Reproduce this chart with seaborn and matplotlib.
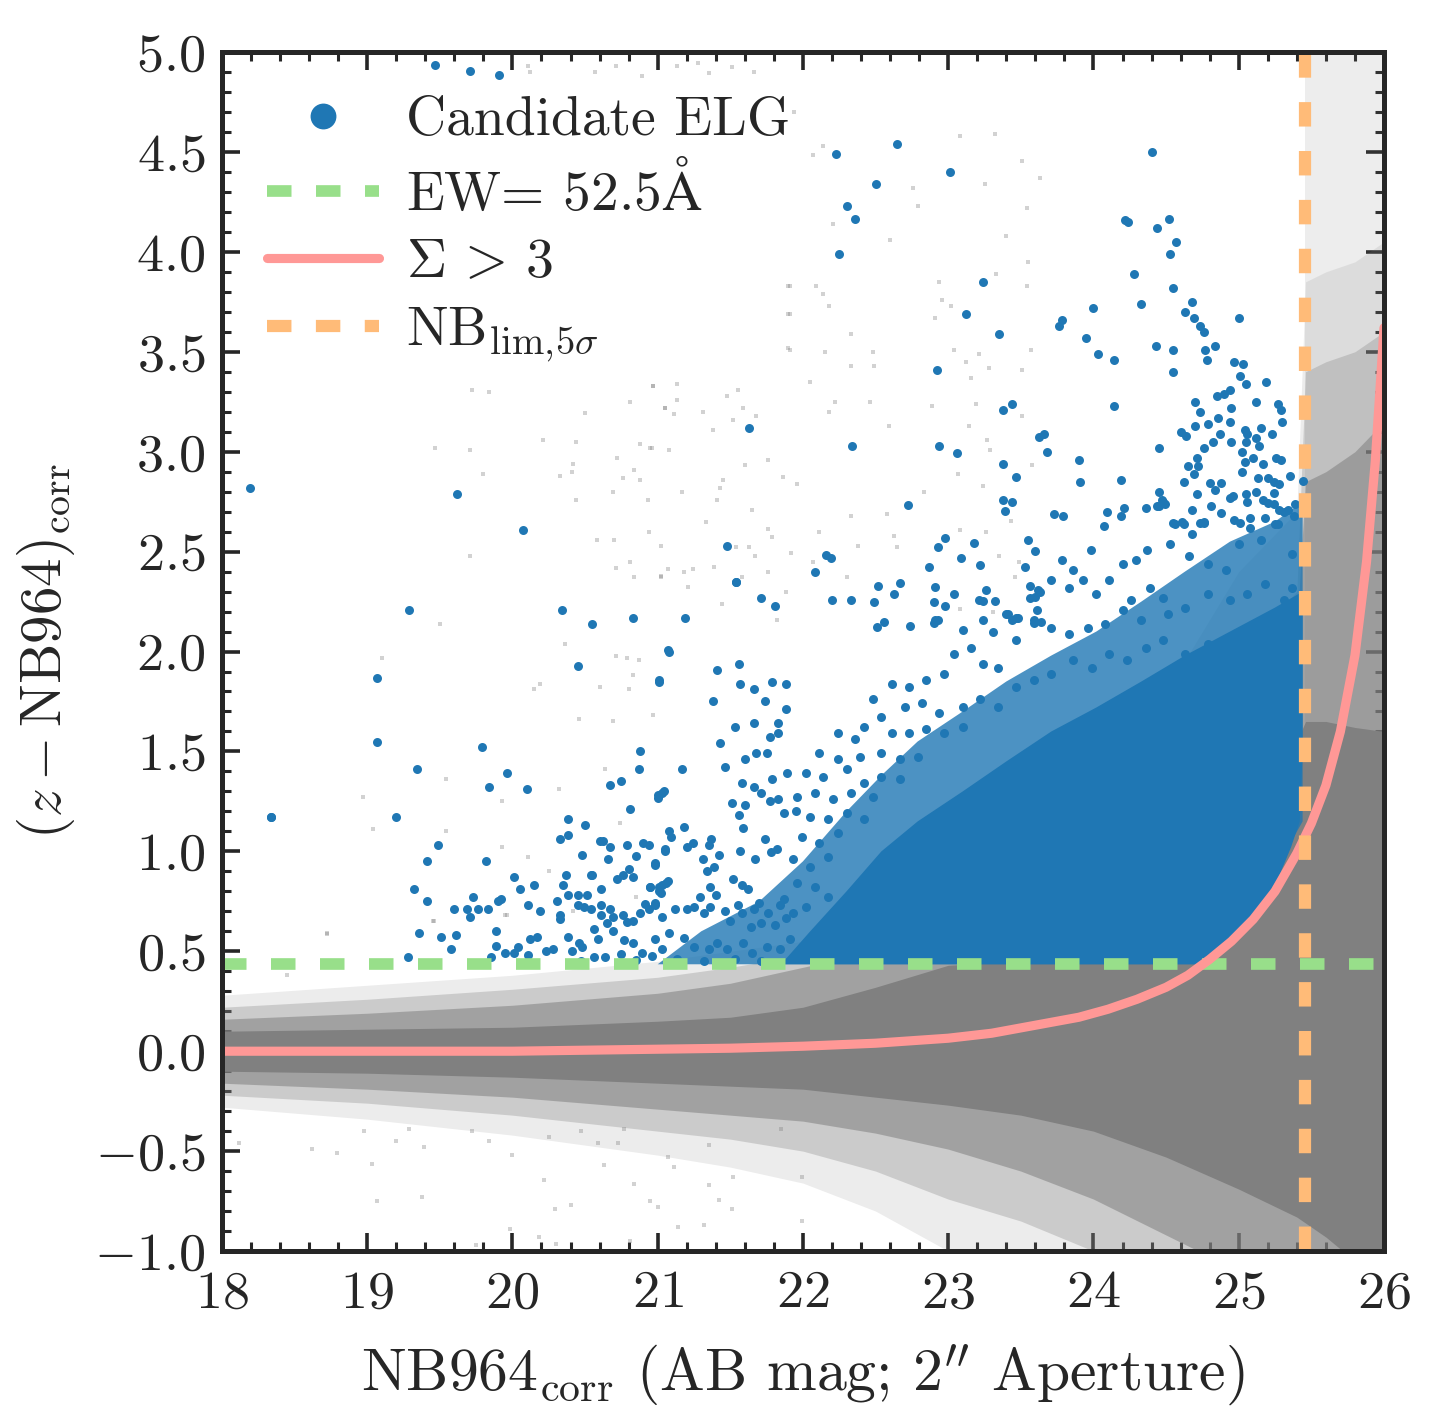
import matplotlib
matplotlib.use("Agg")
import matplotlib.pyplot as plt
import seaborn as sns
from matplotlib.lines import Line2D
from matplotlib.ticker import MultipleLocator

# ---- values ------------------------------------------------------------
EW_CUT = 0.435          # EW = 52.5 A colour cut
NB_LIM = 25.455         # NB964 5-sigma limit

# Sigma > 3 curve
sigma_x = [18.0, 19.0, 20.0, 20.5, 21.0, 21.5, 22.0, 22.5, 23.0, 23.3, 23.6, 23.9,
           24.1, 24.3, 24.5, 24.65, 24.8, 24.95, 25.1, 25.25, 25.4, 25.5, 25.6,
           25.7, 25.8, 25.88, 25.94, 26.0]
sigma_y = [0.00, 0.00, 0.00, 0.005, 0.01, 0.015, 0.025, 0.04, 0.065, 0.09, 0.13, 0.17,
           0.21, 0.26, 0.32, 0.38, 0.46, 0.55, 0.66, 0.80, 0.99, 1.14, 1.33,
           1.60, 1.98, 2.45, 2.95, 3.62]

# envelope of the grey cloud of all detections (solid core -> faint fringe)
cloud_x  = [18.0, 19.0, 20.0, 21.0, 21.5, 22.0, 22.5, 23.0, 23.5, 24.0, 24.5, 25.0,
            25.40, 25.46, 25.6, 25.8, 26.0]
core_hi  = [0.10, 0.11, 0.12, 0.15, 0.17, 0.22, 0.32, 0.43, 0.45, 0.50, 0.60, 1.00,
            1.55, 1.65, 1.65, 1.62, 1.60]
core_lo  = [-0.10, -0.11, -0.13, -0.16, -0.175, -0.19, -0.23, -0.27, -0.32, -0.40,
            -0.53, -0.69, -0.83, -0.86, -0.93, -1.05, -1.10]
halo_hi  = [0.16, 0.19, 0.23, 0.29, 0.34, 0.42, 0.50, 0.60, 0.80, 1.00, 1.30, 1.80,
            2.10, 2.85, 2.90, 3.00, 3.15]
halo_lo  = [-0.16, -0.19, -0.23, -0.29, -0.32, -0.35, -0.41, -0.49, -0.60, -0.74,
            -0.92, -1.10, -1.10, -1.10, -1.10, -1.10, -1.10]
halo2_hi = [0.22, 0.26, 0.31, 0.37, 0.42, 0.48, 0.57, 0.70, 0.90, 1.10, 1.50, 2.00,
            2.30, 3.40, 3.45, 3.50, 3.60]
halo2_lo = [-0.22, -0.26, -0.32, -0.40, -0.44, -0.50, -0.60, -0.74, -0.85, -1.00,
            -1.10, -1.10, -1.10, -1.10, -1.10, -1.10, -1.10]
fringe_hi = [0.28, 0.33, 0.38, 0.45, 0.50, 0.55, 0.65, 0.80, 1.00, 1.20, 1.80, 2.40,
             2.70, 3.85, 3.90, 3.95, 4.05]
fringe_lo = [-0.28, -0.34, -0.42, -0.52, -0.58, -0.66, -0.80, -1.00, -1.10, -1.10,
             -1.10, -1.10, -1.10, -1.10, -1.10, -1.10, -1.10]

# isolated grey detections
field_x = [22.14, 22.07, 23.08, 23.32, 23.51, 23.63, 23.25, 22.76, 22.79, 23.54, 22.60,
           23.40, 22.21, 23.55, 23.33, 23.54, 22.94, 21.91, 22.09, 22.14, 22.18, 22.96,
           23.02, 22.91, 22.33, 21.91, 21.91, 22.15, 22.48, 23.04, 23.21, 23.57, 22.33,
           22.49, 23.28, 23.12, 23.51, 23.16, 22.05, 20.97, 21.13, 21.55, 21.48, 21.13,
           21.05, 21.11, 21.31, 21.59, 21.68, 21.52, 21.38, 22.22, 22.18, 22.46, 22.59,
           22.89, 23.19, 23.14, 23.51, 23.27, 23.29, 23.58, 23.07, 23.24, 22.83, 22.58,
           22.33, 22.63, 22.65, 23.08, 23.26, 23.35, 23.43, 23.49, 23.46, 23.31, 23.08,
           20.95, 21.08, 21.60, 21.76, 21.86, 21.96, 21.45, 21.43, 21.17, 21.41, 21.65,
           21.33, 21.76, 21.79, 21.54, 21.63, 21.67, 21.39, 21.24, 21.18, 21.07, 21.02,
           21.58, 21.76, 21.92, 22.07, 22.11, 22.30, 22.38, 21.88, 21.21, 21.44, 21.82,
           19.72, 19.84, 20.97, 20.81, 21.05, 20.50, 19.47, 19.71, 20.21, 20.44, 20.42,
           20.41, 20.33, 20.72, 20.84, 20.88, 20.96, 20.88, 20.76, 19.80, 20.69, 20.44,
           20.93, 20.94, 20.58, 20.70, 20.71, 20.81, 20.84, 21.02, 21.02, 19.71, 19.50,
           20.36, 19.10, 20.71, 20.79, 20.87, 20.83, 20.80, 20.19, 20.15, 20.60, 20.46,
           20.69, 20.97, 20.64, 20.32, 19.54, 19.93, 18.97, 19.04, 19.54, 19.93, 20.11,
           20.74, 20.25, 20.42, 19.96, 20.85, 19.46, 18.72, 18.45,
           20.11, 20.12, 20.57, 20.71, 20.89, 21.13, 21.28, 21.35, 21.51, 21.66, 21.94,
           21.90, 21.90, 21.90,
           18.62, 18.79, 18.98, 19.03, 19.07, 19.38, 19.20, 19.39, 19.72, 19.29, 19.84,
           20.00, 19.98, 20.18, 20.22, 20.29, 20.40, 20.63, 20.84, 20.95, 21.00, 21.14,
           21.32, 21.51, 21.52, 21.35, 21.42, 21.99, 21.99, 21.07, 21.11, 20.73, 20.59,
           20.47, 20.25, 20.77, 21.35, 21.85, 18.12, 20.81, 20.30, 19.75, 18.72, 19.95,
           19.45]
field_y = [4.53, 4.485, 4.58, 4.59, 4.455, 4.37, 4.34, 4.32, 4.23, 4.22, 4.06,
           4.08, 4.14, 3.95, 3.89, 3.83, 3.85, 3.83, 3.83, 3.79, 3.73, 3.76,
           3.73, 3.67, 3.59, 3.69, 3.51, 3.50, 3.50, 3.51, 3.49, 3.51, 3.43,
           3.43, 3.42, 3.45, 3.41, 3.37, 3.35, 3.33, 3.34, 3.31, 3.28, 3.26,
           3.22, 3.19, 3.20, 3.22, 3.18, 3.16, 3.11, 3.25, 3.20, 3.25, 3.13,
           3.23, 3.24, 3.13, 3.18, 3.06, 3.01, 2.935, 2.89, 2.83, 2.80, 2.69,
           2.68, 2.58, 2.525, 2.61, 2.60, 2.48, 2.655, 2.45, 2.375, 2.20, 2.215,
           3.02, 3.01, 2.935, 2.96, 2.875, 2.84, 2.86, 2.82, 2.80, 2.76, 2.71,
           2.65, 2.615, 2.575, 2.525, 2.525, 2.48, 2.425, 2.415, 2.40, 2.415, 2.375,
           2.375, 2.40, 2.495, 2.45, 2.60, 2.375, 2.53, 2.30, 2.325, 2.24, 2.16,
           3.31, 3.30, 3.33, 3.25, 3.22, 3.195, 3.02, 3.01, 3.06, 3.05, 2.94,
           2.90, 2.88, 2.97, 2.91, 3.04, 3.02, 2.86, 2.87, 2.89, 2.80, 2.76,
           2.76, 2.60, 2.56, 2.56, 2.42, 2.45, 2.375, 2.38, 2.53, 2.48, 2.14,
           2.04, 1.97, 1.98, 1.97, 1.96, 1.885, 1.81, 1.84, 1.81, 1.82, 1.66,
           1.65, 1.68, 1.41, 1.31, 1.36, 1.25, 1.27, 1.11, 1.10, 1.02, 0.97,
           1.14, 0.90, 0.70, 0.68, 0.77, 0.65, 0.59, 0.38,
           4.93, 4.90, 4.90, 4.93, 4.88, 4.93, 4.945, 4.895, 4.925, 4.90, 4.70,
           3.83, 3.69, 3.52,
           -0.49, -0.51, -0.40, -0.565, -0.75, -0.73, -0.45, -0.48, -0.40, -0.39, -0.45,
           -0.52, -0.89, -0.93, -0.645, -0.79, -0.77, -0.57, -0.665, -0.75, -0.78, -0.88,
           -0.87, -0.79, -0.63, -0.67, -0.745, -0.85, -0.63, -0.53, -0.58, -0.46, -0.46,
           -0.40, -0.43, -0.39, -0.47, -0.39, -0.46, -0.95, -0.965, -0.97, 0.585, 0.68,
           0.65]

# dense part of the candidate ELG locus (outline)
elg_core_x = [21.85, 23.00, 24.00, 24.72, 24.85, 25.00, 25.15, 25.28, 25.36,
              25.42, 25.44, 25.44, 25.25, 24.94, 24.63, 24.33, 24.02, 23.71, 23.40,
              23.10, 22.79, 22.54, 22.30, 22.05, 21.85]
elg_core_y = [0.435, 0.435, 0.435, 0.435, 0.48, 0.58, 0.72, 0.88, 1.02,
              1.15, 1.50, 2.30, 2.22, 2.10, 1.98, 1.85, 1.72, 1.60, 1.45,
              1.30, 1.15, 1.00, 0.80, 0.60, 0.435]
elg_mid_x = [21.00, 24.72, 25.00, 25.44, 25.44, 25.25, 24.94, 24.63, 24.33, 24.02,
             23.71, 23.40, 23.10, 22.79, 22.54, 22.30, 22.00, 21.70, 21.30, 21.00]
elg_mid_y = [0.435, 0.435, 0.58, 1.15, 2.75, 2.65, 2.55, 2.40, 2.25, 2.10,
             1.98, 1.85, 1.70, 1.55, 1.38, 1.20, 0.95, 0.75, 0.60, 0.435]

# individual candidate ELGs
elg_x = [19.47, 19.71, 19.91, 22.23, 22.65, 23.01, 22.50, 22.30, 22.36, 22.25, 23.24,
         23.12, 23.35, 22.92, 23.44, 23.38, 23.625, 23.66, 23.68, 21.63, 22.34, 22.94,
         23.06, 23.38, 23.47, 23.38, 23.44, 23.39, 22.72, 22.98, 22.93, 23.18, 23.09,
         23.22, 23.55, 23.60, 23.53, 22.87, 21.48, 22.16, 22.19, 22.08, 21.54, 21.71,
         21.81, 21.19, 22.20, 22.33, 22.49, 22.52, 22.67, 22.63, 22.91, 23.04, 22.90,
         22.98, 23.26, 23.21, 23.24, 23.32, 23.56, 23.63, 23.60, 23.61, 23.41, 23.48,
         23.44, 23.59, 23.64, 22.51, 22.56, 22.74, 22.90, 22.93,
         23.73, 23.79, 23.76, 23.78, 23.90, 24.00, 23.95, 24.03, 24.14, 24.14, 23.91,
         24.07, 24.19, 24.22, 24.24, 24.28, 24.33, 24.09, 24.19, 24.21, 24.36, 24.44,
         24.48, 23.78, 23.86, 23.98,
         24.40, 24.52, 24.44, 24.565, 24.53, 24.55, 24.675, 24.63, 24.69, 24.73, 24.76,
         25.00, 24.43, 24.55, 24.77, 24.84, 24.78, 24.97, 25.03, 24.55, 25.01, 25.05,
         25.19, 24.94, 24.90, 24.85, 24.95, 25.12, 24.70, 24.73, 25.27, 25.29, 25.30,
         24.86, 24.94, 24.79, 24.70, 24.60, 24.64, 25.04, 25.06, 25.15, 25.23, 24.87,
         24.82, 24.95, 25.05, 25.12, 25.14, 24.45, 24.76, 25.02, 24.71, 25.10, 25.26,
         25.29, 25.04, 25.17, 24.65, 24.72, 25.02, 24.69, 25.35, 25.44, 25.13, 25.20,
         25.24, 25.28, 24.62, 24.80, 24.875, 24.84, 24.94, 24.96, 25.05, 25.12, 25.24,
         24.45, 24.47, 24.45, 24.49, 24.71, 24.68, 24.81, 24.875, 25.055, 25.17, 25.20,
         25.245, 25.28, 25.31, 25.385, 25.38, 24.55, 24.61, 24.73, 24.76, 24.97, 25.01,
         25.08, 25.18, 25.27,
         24.20, 24.29, 24.37, 24.56, 24.62, 24.68, 24.76, 24.53, 24.66, 24.79, 24.91,
         25.00, 25.08, 25.15, 25.25, 25.34, 25.37, 25.18, 24.11, 24.02, 23.93, 23.83,
         24.26, 24.39, 24.48, 23.71, 23.62, 23.56, 23.47, 23.59, 23.71, 23.83, 23.96,
         24.08, 24.20, 24.33, 24.51, 24.63, 24.79, 24.94, 25.06, 25.31, 25.37,
         22.91, 23.10, 23.24, 23.31, 23.40, 23.47, 23.04, 23.16, 23.24, 23.34, 22.97,
         22.85, 22.73, 22.61, 22.48, 22.54, 22.70, 22.82, 22.94, 23.10, 23.22, 23.34,
         23.47, 23.59, 23.71, 23.86, 23.99, 24.11, 24.23, 24.36, 24.48, 24.63, 24.79,
         24.94, 25.09, 25.25, 25.37,
         22.24, 22.36, 22.42, 22.61, 22.73, 22.85, 22.97, 23.10, 22.11, 22.24, 22.39,
         22.54, 22.67, 22.79, 22.02, 22.14, 22.30, 22.42, 22.54, 22.67, 21.96, 22.08,
         22.21, 22.33, 22.48, 22.05, 22.17, 22.30, 22.42, 21.99, 22.11, 22.24, 21.93,
         22.05, 22.17, 21.96, 22.08, 21.87, 22.02, 22.17,
         21.54, 21.08, 21.01, 21.41, 21.56, 21.57, 21.66, 21.38, 21.74, 21.79, 21.88,
         21.88, 21.53, 21.66, 21.83, 21.77, 21.83, 21.43, 21.60, 21.68, 21.75, 21.46,
         21.17, 21.58, 21.66, 21.79, 21.89, 21.71, 21.77, 21.83, 21.51, 21.60, 21.56,
         21.87, 21.95, 21.00, 21.03, 21.59, 21.18, 21.08, 21.09, 21.37, 21.35, 21.20,
         21.24, 21.05, 21.42, 21.31, 21.57, 21.67, 21.78, 21.82, 21.74, 20.98, 20.95,
         21.34, 21.39, 21.52, 21.58, 21.62, 21.36, 21.29, 21.40, 21.01, 21.06, 21.02,
         20.98, 21.12, 21.20, 21.25, 21.32, 21.36, 21.46, 21.55, 21.58, 21.66, 21.70,
         21.76, 21.84, 21.50, 21.64, 21.71, 21.81, 21.88, 21.93,
         20.98, 21.08, 21.18, 21.25, 21.35, 21.41, 21.48, 21.59, 21.65, 21.75, 21.84,
         21.91, 21.99, 22.08, 21.13, 21.32, 21.53, 21.71, 21.93,
         18.19, 19.62, 20.07, 19.29, 20.34, 20.55, 20.83, 21.07, 19.07, 20.45, 21.01,
         19.07, 19.79, 19.34, 19.84, 19.96, 20.10, 18.34, 19.20, 20.88, 20.87, 20.67,
         20.75, 21.00, 21.04, 20.81, 20.38, 20.50, 20.33, 20.38, 19.49, 19.41, 19.82,
         20.48, 20.60, 20.62, 20.67, 20.66, 20.79, 20.85, 20.90, 20.94, 21.05, 20.98,
         19.32, 19.41, 20.01, 20.05, 20.15, 20.37, 20.35, 20.38, 20.45, 20.51, 20.31,
         20.61, 20.54, 20.55, 20.72, 20.76, 20.80, 20.83, 20.95, 21.01, 21.03, 21.07,
         19.73, 19.90, 19.92, 20.11, 20.19, 19.60, 19.69, 19.71, 19.76, 19.83, 20.45,
         20.49, 20.54, 20.61, 20.67, 20.61, 20.65, 20.69, 20.33, 20.33, 20.76, 20.79,
         20.83, 20.88, 20.91, 20.94, 20.98, 21.03, 19.36, 19.51, 19.61, 19.89, 20.12,
         20.17, 20.23, 20.28, 20.38, 20.46, 20.48, 20.56, 20.59, 20.69, 20.77, 20.83,
         19.58, 19.85, 19.89, 19.95, 20.01, 20.04, 20.11, 20.41, 20.47, 20.56, 20.64,
         20.75, 20.85, 20.89, 20.96, 21.03, 19.28, 18.34]
elg_y = [4.935, 4.905, 4.885, 4.49, 4.54, 4.40, 4.34, 4.23, 4.165, 3.99, 3.85,
         3.69, 3.59, 3.41, 3.24, 3.21, 3.075, 3.09, 3.00, 3.12, 3.03, 3.03,
         2.995, 2.94, 2.875, 2.76, 2.75, 2.705, 2.735, 2.57, 2.525, 2.545, 2.47,
         2.435, 2.56, 2.505, 2.425, 2.425, 2.53, 2.485, 2.47, 2.40, 2.35, 2.27,
         2.23, 2.17, 2.26, 2.26, 2.25, 2.33, 2.345, 2.29, 2.325, 2.29, 2.25,
         2.23, 2.31, 2.26, 2.255, 2.255, 2.33, 2.30, 2.275, 2.21, 2.19, 2.17,
         2.16, 2.145, 2.15, 2.125, 2.15, 2.13, 2.145, 2.16,
         2.69, 2.68, 3.63, 3.66, 2.96, 3.72, 3.57, 3.49, 3.46, 3.23, 2.85,
         2.63, 2.86, 4.16, 4.15, 3.89, 3.74, 2.70, 2.68, 2.72, 2.72, 2.73,
         2.75, 2.46, 2.41, 2.51,
         4.50, 4.165, 4.12, 4.05, 3.99, 3.82, 3.75, 3.70, 3.67, 3.63, 3.60,
         3.67, 3.53, 3.51, 3.51, 3.53, 3.46, 3.45, 3.44, 3.40, 3.38, 3.34,
         3.35, 3.31, 3.29, 3.28, 3.22, 3.25, 3.25, 3.20, 3.24, 3.21, 3.15,
         3.17, 3.15, 3.14, 3.13, 3.10, 3.08, 3.11, 3.09, 3.12, 3.09, 3.09,
         3.05, 3.05, 3.05, 3.07, 3.03, 3.02, 3.02, 3.00, 2.97, 2.97, 2.97,
         2.96, 2.95, 2.94, 2.93, 2.93, 2.90, 2.89, 2.88, 2.855, 2.87, 2.87,
         2.85, 2.84, 2.85, 2.845, 2.845, 2.81, 2.77, 2.78, 2.79, 2.80, 2.795,
         2.80, 2.76, 2.73, 2.74, 2.79, 2.71, 2.73, 2.695, 2.75, 2.76, 2.745,
         2.74, 2.71, 2.70, 2.74, 2.68, 2.645, 2.65, 2.645, 2.645, 2.66, 2.645,
         2.67, 2.67, 2.64,
         2.44, 2.46, 2.51, 2.64, 2.64, 2.59, 2.65, 2.54, 2.48, 2.44, 2.41,
         2.54, 2.62, 2.56, 2.64, 2.71, 2.49, 2.34, 2.36, 2.29, 2.36, 2.32,
         2.26, 2.32, 2.27, 2.36, 2.31, 2.27, 2.17, 2.16, 2.12, 2.09, 2.12,
         2.14, 2.21, 2.16, 2.19, 2.22, 2.29, 2.26, 2.29, 2.26, 2.32,
         2.16, 2.11, 2.16, 2.10, 2.19, 2.06, 1.99, 2.02, 1.94, 1.92, 1.89,
         1.86, 1.82, 1.84, 1.76, 1.67, 1.72, 1.74, 1.69, 1.72, 1.76, 1.72,
         1.82, 1.86, 1.89, 1.96, 1.92, 1.99, 1.96, 2.02, 2.06, 1.99, 2.04,
         2.06, 2.09, 2.02, 2.09,
         1.59, 1.56, 1.62, 1.59, 1.59, 1.61, 1.59, 1.62, 1.49, 1.46, 1.47,
         1.49, 1.46, 1.47, 1.39, 1.37, 1.41, 1.34, 1.37, 1.36, 1.27, 1.29,
         1.26, 1.29, 1.27, 1.17, 1.16, 1.19, 1.16, 1.07, 1.04, 1.09, 0.96,
         0.92, 0.97, 0.84, 0.82, 0.76, 0.72, 0.77,
         2.35, 2.00, 1.85, 1.91, 1.94, 1.84, 1.81, 1.75, 1.75, 1.85, 1.84,
         1.71, 1.62, 1.64, 1.64, 1.57, 1.59, 1.54, 1.46, 1.49, 1.49, 1.42,
         1.41, 1.34, 1.32, 1.36, 1.39, 1.29, 1.25, 1.26, 1.24, 1.23, 1.18,
         1.19, 1.20, 1.265, 1.29, 1.115, 1.12, 1.10, 1.07, 1.06, 1.03, 1.02,
         1.04, 1.00, 0.98, 0.96, 1.00, 0.96, 0.997, 1.01, 1.06, 0.93, 0.82,
         0.90, 0.92, 0.86, 0.83, 0.81, 0.82, 0.77, 0.78, 0.82, 0.84, 0.79,
         0.73, 0.71, 0.71, 0.72, 0.69, 0.72, 0.70, 0.73, 0.69, 0.71, 0.74,
         0.69, 0.73, 0.65, 0.62, 0.64, 0.63, 0.665, 0.69,
         0.56, 0.59, 0.565, 0.52, 0.51, 0.54, 0.51, 0.54, 0.49, 0.52, 0.51,
         0.56, 0.52, 0.54, 0.46, 0.45, 0.46, 0.45, 0.46,
         2.82, 2.79, 2.61, 2.21, 2.21, 2.14, 2.17, 2.01, 1.87, 1.93, 1.86,
         1.545, 1.52, 1.41, 1.32, 1.39, 1.31, 1.17, 1.17, 1.50, 1.41, 1.33,
         1.35, 1.28, 1.30, 1.21, 1.16, 1.13, 1.06, 1.08, 1.03, 0.95, 0.95,
         0.98, 1.05, 1.05, 1.02, 0.96, 1.03, 0.975, 1.04, 1.03, 1.01, 0.94,
         0.81, 0.75, 0.87, 0.81, 0.83, 0.88, 0.83, 0.78, 0.78, 0.78, 0.75,
         0.81, 0.88, 0.88, 0.86, 0.88, 0.91, 0.87, 0.82, 0.80, 0.83, 0.85,
         0.77, 0.75, 0.76, 0.73, 0.70, 0.71, 0.71, 0.67, 0.71, 0.71, 0.73,
         0.72, 0.71, 0.73, 0.71, 0.68, 0.64, 0.67, 0.68, 0.66, 0.68, 0.645,
         0.65, 0.69, 0.735, 0.71, 0.74, 0.67, 0.59, 0.57, 0.58, 0.60, 0.56,
         0.57, 0.50, 0.51, 0.57, 0.54, 0.52, 0.61, 0.56, 0.60, 0.555, 0.54,
         0.51, 0.47, 0.525, 0.49, 0.49, 0.52, 0.48, 0.50, 0.45, 0.47, 0.47,
         0.485, 0.455, 0.49, 0.475, 0.51, 0.47, 1.17]

GREY = "#808080"
BLUE = "#1f77b4"
GREEN = "#98df8a"
PINK = "#ff9896"
ORANGE = "#ffbb78"

# ---- style -------------------------------------------------------------
sns.set_style("ticks")
plt.rcParams.update({
    "font.family": "serif",
    "font.serif": ["cmr10"],
    "mathtext.fontset": "cm",
    "axes.formatter.use_mathtext": True,
    "axes.linewidth": 1.8,
})

fig = plt.figure(figsize=(7.215, 7.105), dpi=200)
ax = fig.add_axes([0.1538, 0.1196, 0.8053, 0.8438])

# grey cloud of all sources, densest in the middle
ax.fill_between([NB_LIM, 26.0], EW_CUT, 5.0, color=GREY, alpha=0.14, lw=0, zorder=1)
ax.fill_between(cloud_x, fringe_lo, fringe_hi, color=GREY, alpha=0.15, lw=0, zorder=1)
ax.fill_between(cloud_x, halo2_lo, halo2_hi, color=GREY, alpha=0.30, lw=0, zorder=1)
ax.fill_between(cloud_x, halo_lo, halo_hi, color=GREY, alpha=0.55, lw=0, zorder=1)
ax.fill_between(cloud_x, core_lo, core_hi, color=GREY, alpha=1.0, lw=0, zorder=1)
sns.scatterplot(x=field_x, y=field_y, ax=ax, color=GREY, marker="s", s=2.6,
                alpha=0.35, linewidth=0, zorder=1.5, legend=False)

# candidate ELGs
ax.fill(elg_mid_x, elg_mid_y, color=BLUE, alpha=0.8, lw=0, zorder=2)
ax.fill(elg_core_x, elg_core_y, color=BLUE, lw=0, zorder=2)
sns.scatterplot(x=elg_x, y=elg_y, ax=ax, color=BLUE, s=10.5, linewidth=0,
                zorder=2.5, legend=False)

# selection lines
ax.axhline(EW_CUT, color=GREEN, lw=4.2, dashes=(2.1, 2.1), zorder=3)
ax.plot(sigma_x, sigma_y, color=PINK, lw=3.3, zorder=4)
ax.axvline(NB_LIM, color=ORANGE, lw=4.4, dashes=(2.0, 2.0), zorder=5)

ax.set_xlim(18, 26)
ax.set_ylim(-1.0, 5.0)
ax.xaxis.set_major_locator(MultipleLocator(1))
ax.xaxis.set_minor_locator(MultipleLocator(0.2))
ax.yaxis.set_major_locator(MultipleLocator(0.5))
ax.yaxis.set_minor_locator(MultipleLocator(0.1))
ax.tick_params(which="both", direction="in", top=True, right=True, labelsize=19.5)
ax.tick_params(which="major", length=6.5, width=1.3)
ax.tick_params(which="minor", length=3.3, width=1.1)
ax.tick_params(axis="x", pad=7)
ax.tick_params(axis="y", pad=6)
for sp in ax.spines.values():
    sp.set_zorder(10)

ax.set_xlabel(r"NB964$_{\mathrm{corr}}$ (AB mag; 2$^{\prime\prime}$ Aperture)",
              fontsize=21.5, labelpad=9)
ax.set_ylabel(r"$(z-\mathrm{NB964})_{\mathrm{corr}}$", fontsize=20.5, labelpad=6)

handles = [
    Line2D([], [], ls="none", marker="o", ms=8.3, color=BLUE),
    Line2D([], [], color=GREEN, lw=4.2, dashes=(2.1, 2.1)),
    Line2D([], [], color=PINK, lw=3.3),
    Line2D([], [], color=ORANGE, lw=4.4, dashes=(2.0, 2.0)),
]
labels = ["Candidate ELG", r"EW= 52.5$\mathrm{\AA}$", r"$\Sigma\,>\,3$",
          r"NB$_{\mathrm{lim},\!5\sigma}$"]
leg = ax.legend(handles, labels, loc="upper left", bbox_to_anchor=(0.0105, 0.991),
                frameon=False, fontsize=20, handlelength=2.0, labelspacing=0.31,
                handletextpad=0.5, borderaxespad=0.2)
leg.set_zorder(11)

fig.savefig("out.png", dpi=200)
